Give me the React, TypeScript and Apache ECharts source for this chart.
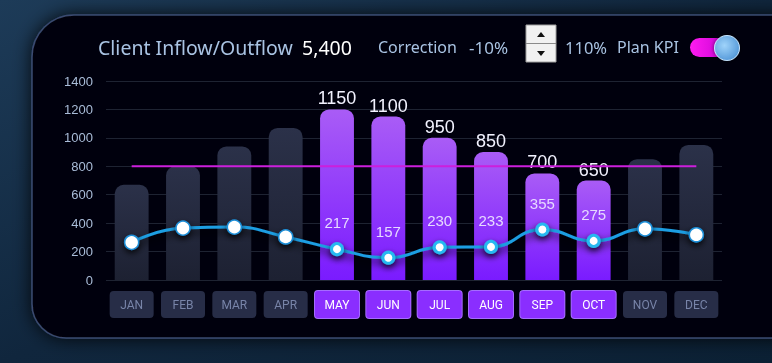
import React, { useEffect, useRef } from "react";
import * as echarts from "echarts";

const months = ["JAN", "FEB", "MAR", "APR", "MAY", "JUN", "JUL", "AUG", "SEP", "OCT", "NOV", "DEC"];
const inflow = [620, 750, 890, 1020, 1150, 1100, 950, 850, 700, 650, 800, 900];
const CAP = 50; // rounded top cap drawn above each value
const outflow = [265, 365, 372, 303, 217, 157, 230, 233, 355, 275, 360, 318];
const kpi = [800, 800, 800, 800, 800, 800, 800, 800, 800, 800, 800, 800];
const highlighted = [false, false, false, false, true, true, true, true, true, true, false, false];

const FONT = "'Noto Sans', 'Open Sans', sans-serif";
const NUM = "'Liberation Sans', Arial, sans-serif";

export default function App() {
  const ref = useRef<HTMLDivElement>(null);
  useEffect(() => {
    const chart = echarts.init(ref.current!, null, { renderer: "svg" });
    const mkGrey = () => new echarts.graphic.LinearGradient(0, 0, 0, 1, [
      { offset: 0, color: "#2b3149" },
      { offset: 1, color: "#1d2132" },
    ]);
    const mkPurple = () => new echarts.graphic.LinearGradient(0, 0, 0, 1, [
      { offset: 0, color: "#a95cf6" },
      { offset: 1, color: "#7a1bff" },
    ]);
    const option: any = {
      animation: false,
      graphic: [
        {
          type: "rect", z: -10, silent: true,
          shape: { x: 0, y: 0, width: 772, height: 363 },
          style: {
            fill: new echarts.graphic.LinearGradient(0, 0, 1, 1, [
              { offset: 0, color: "#1d3b58" },
              { offset: 0.5, color: "#10263d" },
              { offset: 1, color: "#0b2034" },
            ]),
          },
        },
        {
          type: "rect", z: -9, silent: true,
          shape: { x: 32, y: 15, width: 800, height: 323, r: [42, 0, 0, 34] },
          style: { fill: "#05060f", stroke: "#3a4a70", lineWidth: 1.5, shadowBlur: 18, shadowColor: "rgba(0,0,0,0.85)" },
        },
        { type: "text", x: 98, y: 47, style: { text: "Client Inflow/Outflow", fill: "#a9c3e3", font: `19.5px ${FONT}`, verticalAlign: "middle" } },
        { type: "text", x: 302, y: 47, style: { text: "5,400", fill: "#ffffff", font: `19.5px ${FONT}`, verticalAlign: "middle" } },
        { type: "text", x: 378, y: 47, style: { text: "Correction", fill: "#a9c3e3", font: `16px ${FONT}`, verticalAlign: "middle" } },
        { type: "text", x: 469, y: 47, style: { text: "-10%", fill: "#a9c3e3", font: `17px ${FONT}`, verticalAlign: "middle" } },
        { type: "rect", shape: { x: 526, y: 25, width: 30, height: 37 }, style: { fill: "#f1f1f1", stroke: "#a0a0a0", lineWidth: 1 } },
        { type: "line", shape: { x1: 526, y1: 43.5, x2: 556, y2: 43.5 }, style: { stroke: "#8a8a8a", lineWidth: 1 } },
        { type: "polygon", shape: { points: [[537, 37], [545, 37], [541, 32]] }, style: { fill: "#111" } },
        { type: "polygon", shape: { points: [[537, 51], [545, 51], [541, 56]] }, style: { fill: "#111" } },
        { type: "text", x: 565, y: 47, style: { text: "110%", fill: "#a9c3e3", font: `16.5px ${FONT}`, verticalAlign: "middle" } },
        { type: "text", x: 617, y: 47, style: { text: "Plan KPI", fill: "#a9c3e3", font: `16px ${FONT}`, verticalAlign: "middle" } },
        {
          type: "rect", shape: { x: 690, y: 38, width: 40, height: 19, r: 9.5 },
          style: { fill: new echarts.graphic.LinearGradient(0, 0, 1, 0, [{ offset: 0, color: "#ff1cf0" }, { offset: 1, color: "#c400d2" }]) },
        },
        {
          type: "circle", shape: { cx: 727, cy: 48, r: 12.5 },
          style: {
            fill: new echarts.graphic.RadialGradient(0.4, 0.4, 0.7, [{ offset: 0, color: "#9fd3fa" }, { offset: 1, color: "#4d93d6" }]),
            stroke: "#c8e6ff", lineWidth: 1, shadowBlur: 4, shadowColor: "rgba(0,0,0,0.6)",
          },
        },
      ],
      grid: { left: 106, right: 50, top: 81, bottom: 83 },
      xAxis: {
        type: "category",
        data: months,
        axisLine: { show: false },
        axisTick: { show: false },
        axisLabel: {
          interval: 0,
          margin: 11,
          formatter: (v: string, i: number) => (highlighted[i] ? `{h|${v}}` : `{g|${v}}`),
          rich: {
            g: {
              width: 44, height: 27, lineHeight: 27, align: "center", verticalAlign: "middle",
              backgroundColor: "#272d47", borderRadius: 4, color: "#7884a8", fontSize: 12, fontFamily: "Roboto, sans-serif",
            },
            h: {
              width: 44, height: 27, lineHeight: 27, align: "center", verticalAlign: "middle",
              backgroundColor: "#8a2eff", borderColor: "#a56cff", borderWidth: 1, borderRadius: 3,
              color: "#ffffff", fontSize: 12, fontFamily: "Roboto, sans-serif",
            },
          },
        },
      },
      yAxis: {
        type: "value",
        min: 0,
        max: 1400,
        interval: 200,
        axisLabel: { color: "#a9bcd8", fontSize: 13, margin: 13, fontFamily: NUM, formatter: (v: number) => String(v) },
        splitLine: { lineStyle: { color: "#1e2332", width: 1 } },
        axisLine: { show: false },
        axisTick: { show: false },
      },
      series: [
        {
          type: "custom",
          z: 2,
          encode: { x: 0, y: 1 },
          data: inflow.map((v, i) => [i, v]),
          renderItem: (params: any, api: any) => {
            const i = api.value(0);
            const v = api.value(1);
            const base = api.coord([i, 0]);
            const top = api.coord([i, v + CAP]);
            const w = api.size([1, 0])[0] * 0.66;
            const hl = highlighted[i];
            const children: any[] = [
              {
                type: "rect",
                shape: { x: base[0] - w / 2, y: top[1], width: w, height: base[1] - top[1], r: [9, 9, 0, 0] },
                style: { fill: hl ? mkPurple() : mkGrey() },
              },
            ];
            if (hl) {
              children.push({
                type: "text",
                style: {
                  text: String(v), x: base[0], y: top[1] - 2, align: "center", verticalAlign: "bottom",
                  fill: "#f2f2ff", font: `18px ${NUM}`,
                },
              });
            }
            return { type: "group", children };
          },
        },
        {
          type: "line", data: kpi, symbol: "none", z: 3,
          lineStyle: { color: "#cc1fdc", width: 2 },
        },
        {
          type: "line", smooth: 0.5, z: 4, symbol: "circle",
          lineStyle: { color: "#1d9ee2", width: 3, shadowBlur: 8, shadowColor: "rgba(0,0,0,0.9)", shadowOffsetY: 4 },
          itemStyle: { color: "#ffffff", borderColor: "#1d8fd8", borderWidth: 1.5 },
          data: outflow.map((v, i) => ({
            value: v,
            symbol: "circle",
            symbolSize: highlighted[i] ? 11 : 14,
            itemStyle: highlighted[i]
              ? { color: "#ffffff", borderColor: "#27b9f0", borderWidth: 3, shadowBlur: 6, shadowColor: "rgba(0,0,0,0.8)", shadowOffsetY: 3 }
              : { color: "#ffffff", borderColor: "#1d8fd8", borderWidth: 1.5, shadowBlur: 6, shadowColor: "rgba(0,0,0,0.8)", shadowOffsetY: 3 },
            label: {
              show: highlighted[i], position: "top", distance: 12,
              color: "#e6d9ff", fontSize: 15, fontFamily: NUM,
            },
          })),
        },
      ],
    };
    chart.setOption(option);
    return () => chart.dispose();
  }, []);
  return <div ref={ref} style={{ position: "fixed", left: 0, top: 0, width: 772, height: 363 }} />;
}
